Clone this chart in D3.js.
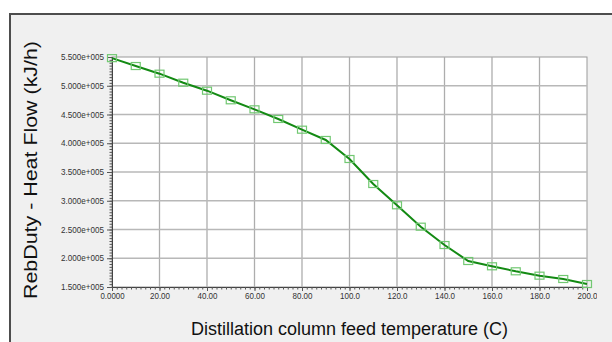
<!DOCTYPE html>
<html>
<head>
<meta charset="utf-8">
<script src="https://cdn.jsdelivr.net/npm/d3@7"></script>
<style>
  html, body { margin: 0; padding: 0; background: #ffffff; }
  svg { display: block; font-family: "Liberation Sans", Arial, sans-serif; }
</style>
</head>
<body>
<div id="chart"></div>
<script>
// 数据
const temps = [0, 10, 20, 30, 40, 50, 60, 70, 80, 90, 100, 110, 120, 130, 140, 150, 160, 170, 180, 190, 200];
const rebDuty = [548000, 534300, 521000, 505300, 491400, 474700, 459000, 442200, 423600, 405700,
  372600, 329100, 292100, 254900, 223000, 195200, 186000, 177300, 169700, 163900, 155200];
const xTicks = [0, 20, 40, 60, 80, 100, 120, 140, 160, 180, 200];
const xTickLabels = ['0.0000', '20.00', '40.00', '60.00', '80.00', '100.0', '120.0', '140.0', '160.0', '180.0', '200.0'];
const yTicks = [150000, 200000, 250000, 300000, 350000, 400000, 450000, 500000, 550000];
const yTickLabels = ['1.500e+005', '2.000e+005', '2.500e+005', '3.000e+005', '3.500e+005',
  '4.000e+005', '4.500e+005', '5.000e+005', '5.500e+005'];

const width = 612, height = 342;
const plot = { left: 112, right: 587, top: 57, bottom: 287 };

const svg = d3.select('#chart').append('svg')
  .attr('width', width)
  .attr('height', height);

// 面板背景和边框
svg.append('rect')
  .attr('x', 10).attr('y', 14)
  .attr('width', width).attr('height', height)
  .attr('fill', '#f0f0f0')
  .attr('stroke', '#4d4d4d')
  .attr('stroke-width', 2);

// 比例尺
const x = d3.scaleLinear().domain([0, 200]).range([plot.left, plot.right]);
const y = d3.scaleLinear().domain([150000, 550000]).range([plot.bottom, plot.top]);

// 绘图区
svg.append('rect')
  .attr('x', plot.left).attr('y', plot.top)
  .attr('width', plot.right - plot.left).attr('height', plot.bottom - plot.top)
  .attr('fill', '#ffffff')
  .attr('stroke', '#9a9a9a')
  .attr('stroke-width', 1);

// 网格线
svg.append('g')
  .selectAll('line')
  .data(xTicks.slice(1, -1))
  .enter().append('line')
  .attr('x1', d => x(d)).attr('x2', d => x(d))
  .attr('y1', plot.top).attr('y2', plot.bottom)
  .attr('stroke', '#adadad').attr('stroke-width', 1.3);

svg.append('g')
  .selectAll('line')
  .data(yTicks.slice(1, -1))
  .enter().append('line')
  .attr('x1', plot.left).attr('x2', plot.right)
  .attr('y1', d => y(d)).attr('y2', d => y(d))
  .attr('stroke', '#b8b8b8').attr('stroke-width', 1.5);

// Y轴
const yAxis = svg.append('g')
  .attr('transform', `translate(${plot.left},0)`)
  .call(d3.axisLeft(y).tickValues(d3.range(150000, 550001, 5000)).tickSize(2.5).tickFormat(''));
yAxis.select('.domain').attr('stroke', '#444');
yAxis.selectAll('.tick line').attr('stroke', '#555');

const yMajor = svg.append('g')
  .attr('transform', `translate(${plot.left},0)`)
  .call(d3.axisLeft(y).tickValues(yTicks).tickSize(5).tickPadding(3)
    .tickFormat((d, i) => yTickLabels[i]));
yMajor.select('.domain').remove();
yMajor.selectAll('.tick line').attr('stroke', '#555');
yMajor.selectAll('.tick text')
  .attr('fill', '#333')
  .style('font-size', '8.4px')
  .attr('textLength', 43)
  .attr('lengthAdjust', 'spacingAndGlyphs');

// X轴
const clip = svg.append('clipPath').attr('id', 'xclip');
clip.append('rect').attr('x', 0).attr('y', 0).attr('width', 597).attr('height', height);

const xAxis = svg.append('g')
  .attr('transform', `translate(0,${plot.bottom})`)
  .call(d3.axisBottom(x).tickValues(d3.range(0, 201, 2)).tickSize(2.5).tickFormat(''));
xAxis.select('.domain').attr('stroke', '#444');
xAxis.selectAll('.tick line').attr('stroke', '#555');

const xMajor = svg.append('g')
  .attr('transform', `translate(0,${plot.bottom})`)
  .attr('clip-path', 'url(#xclip)')
  .call(d3.axisBottom(x).tickValues(xTicks).tickSize(4).tickPadding(2)
    .tickFormat((d, i) => xTickLabels[i]));
xMajor.select('.domain').remove();
xMajor.selectAll('.tick line').attr('stroke', '#555');
xMajor.selectAll('.tick text')
  .attr('fill', '#333')
  .style('font-size', '8.2px')
  .attr('textLength', d => d === 0 ? 24 : 20)
  .attr('lengthAdjust', 'spacingAndGlyphs');

// 折线
const points = temps.map((t, i) => ({ t, v: rebDuty[i] }));
const line = d3.line()
  .x(d => x(d.t))
  .y(d => y(d.v));

svg.append('path')
  .datum(points)
  .attr('d', line)
  .attr('fill', 'none')
  .attr('stroke', '#138a13')
  .attr('stroke-width', 2);

// 数据点标记
svg.selectAll('.marker')
  .data(points)
  .enter().append('rect')
  .attr('class', 'marker')
  .attr('x', d => x(d.t) - 4.5)
  .attr('y', d => y(d.v) - 3.5)
  .attr('width', 9)
  .attr('height', 7)
  .attr('fill', 'none')
  .attr('stroke', '#72c872')
  .attr('stroke-width', 1.2);

// 坐标轴标题
svg.append('text')
  .attr('x', (plot.left + plot.right) / 2)
  .attr('y', 335)
  .attr('text-anchor', 'middle')
  .attr('fill', '#111')
  .style('font-size', '18px')
  .attr('textLength', 317)
  .attr('lengthAdjust', 'spacingAndGlyphs')
  .text('Distillation column feed temperature (C)');

svg.append('text')
  .attr('transform', `translate(36.5, ${(plot.top + plot.bottom) / 2 - 2}) rotate(-90)`)
  .attr('text-anchor', 'middle')
  .attr('fill', '#111')
  .style('font-size', '18.5px')
  .attr('textLength', 258)
  .attr('lengthAdjust', 'spacingAndGlyphs')
  .text('RebDuty - Heat Flow (kJ/h)');
</script>
</body>
</html>
